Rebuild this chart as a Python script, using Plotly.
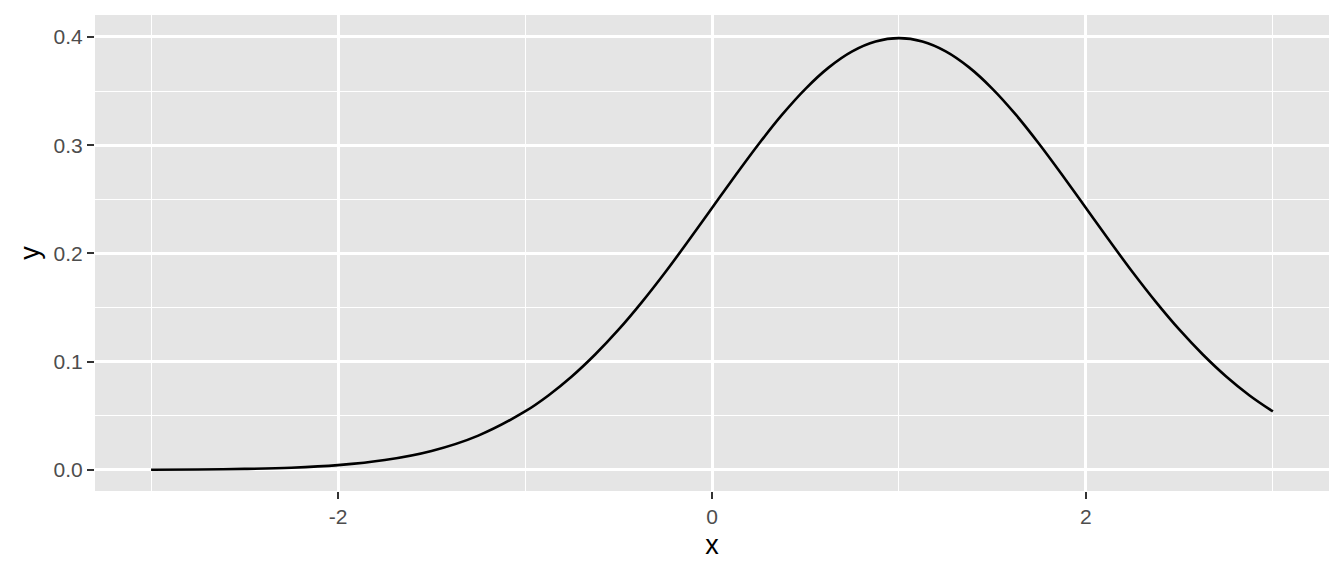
import plotly.graph_objects as go

# values
x_vals = [-3.0, -2.75, -2.5, -2.25, -2.0, -1.75, -1.5, -1.25, -1.0,
          -0.875, -0.75, -0.625, -0.5, -0.375, -0.25, -0.125, 0.0, 0.125, 0.25, 0.375,
          0.5, 0.625, 0.75, 0.875, 1.0, 1.125, 1.25, 1.375, 1.5, 1.625, 1.75, 1.875,
          2.0, 2.125, 2.25, 2.375, 2.5, 2.625, 2.75, 2.875, 3.0]
y_vals = [0.0001, 0.0004, 0.0009, 0.0020, 0.0044, 0.0091, 0.0175, 0.0317, 0.0540,
          0.0688, 0.0863, 0.1066, 0.1295, 0.1550, 0.1826, 0.2119, 0.2420, 0.2720, 0.3011, 0.3282,
          0.3521, 0.3719, 0.3867, 0.3958, 0.3989, 0.3958, 0.3867, 0.3719, 0.3521, 0.3282, 0.3011, 0.2720,
          0.2420, 0.2119, 0.1826, 0.1550, 0.1295, 0.1066, 0.0863, 0.0688, 0.0540]
x_ticks = [-2, 0, 2]
x_minor = [-3, -1, 1, 3]
y_ticks = [0.0, 0.1, 0.2, 0.3, 0.4]
y_tick_labels = ["0.0", "0.1", "0.2", "0.3", "0.4"]
y_minor = [0.05, 0.15, 0.25, 0.35]

fig = go.Figure()
fig.add_trace(go.Scatter(x=x_vals, y=y_vals, mode="lines",
                         line=dict(color="black", width=2.6, shape="spline", smoothing=1.0),
                         hoverinfo="skip", showlegend=False))

font_family = "Liberation Sans, Arial, sans-serif"
fig.update_layout(
    width=1344, height=576,
    margin=dict(l=95, r=15, t=15, b=85),
    paper_bgcolor="white",
    plot_bgcolor="#E5E5E5",
    font=dict(family=font_family, color="#4D4D4D", size=21),
    xaxis=dict(
        range=[-3.3, 3.3], tickvals=x_ticks, ticktext=[str(v) for v in x_ticks],
        showgrid=True, gridcolor="white", gridwidth=2.7,
        minor=dict(tickvals=x_minor, showgrid=True, gridcolor="white", gridwidth=1.4, ticks=""),
        zeroline=False, showline=False,
        ticks="outside", ticklen=7, tickwidth=2.2, tickcolor="#333333",
        tickfont=dict(size=21, color="#4D4D4D"),
        title=dict(text="x", font=dict(size=27, color="black"), standoff=7),
    ),
    yaxis=dict(
        range=[-0.0195, 0.4203], tickvals=y_ticks, ticktext=y_tick_labels,
        showgrid=True, gridcolor="white", gridwidth=2.7,
        minor=dict(tickvals=y_minor, showgrid=True, gridcolor="white", gridwidth=1.4, ticks=""),
        zeroline=False, showline=False,
        ticks="outside", ticklen=7, tickwidth=2.2, tickcolor="#333333",
        tickfont=dict(size=21, color="#4D4D4D"),
        title=dict(text="y", font=dict(size=27, color="black"), standoff=6),
    ),
)

fig.write_html("out.html", config={"displayModeBar": False},
               post_script="document.body.style.margin='0';")
